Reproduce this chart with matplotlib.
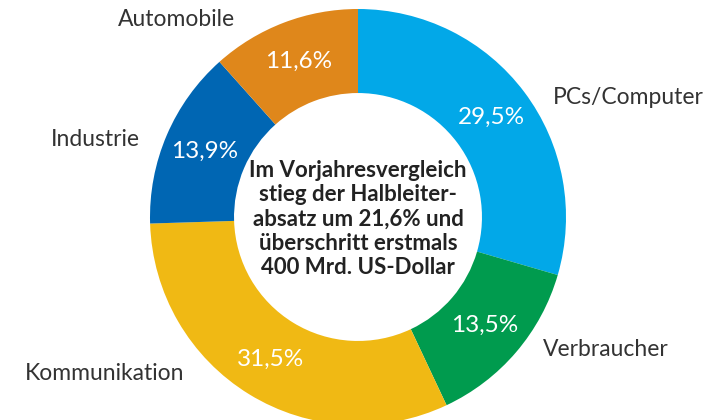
import matplotlib
matplotlib.use("Agg")
import matplotlib.pyplot as plt

categories = ["PCs/Computer", "Verbraucher", "Kommunikation", "Industrie", "Automobile"]
values = [29.5, 13.5, 31.5, 13.9, 11.6]
colors = ["#02A8E8", "#009B4E", "#F0B914", "#0066B3", "#DF871B"]
center_text = ("Im Vorjahresvergleich\nstieg der Halbleiter-\nabsatz um 21,6% und\n"
               "überschritt erstmals\n400 Mrd. US-Dollar")

W, H = 724, 420
fig = plt.figure(figsize=(W / 100, H / 100), dpi=100)
ax = fig.add_axes([0, 0, 1, 1])

cx, cy, R = 358, H - 217, 208
wedges, _, autotexts = ax.pie(
    values, colors=colors, startangle=90, counterclock=False,
    center=(cx, cy), radius=R, wedgeprops=dict(width=R * 0.404, linewidth=0),
    autopct=lambda p: f"{p:.1f}".replace(".", ",") + "%", pctdistance=0.80,
    textprops=dict(color="white", fontsize=17.5, family="Lato"),
    frame=True)
ax.set_xlim(0, W)
ax.set_ylim(0, H)
ax.set_aspect("equal")
ax.axis("off")

ax.text(cx, cy - 2, center_text, ha="center", va="center", fontsize=16,
        family="Lato", fontweight="bold", color="#222222", linespacing=1.2)

label_pos = {
    "PCs/Computer": (628, 97),
    "Verbraucher": (606, 349),
    "Kommunikation": (105, 373),
    "Industrie": (95, 140),
    "Automobile": (176, 20),
}
for name in categories:
    x, y = label_pos[name]
    ax.text(x, H - y, name, ha="center", va="center", fontsize=16.5,
            family="Lato", color="#333333")

fig.savefig("out.png", dpi=100)
